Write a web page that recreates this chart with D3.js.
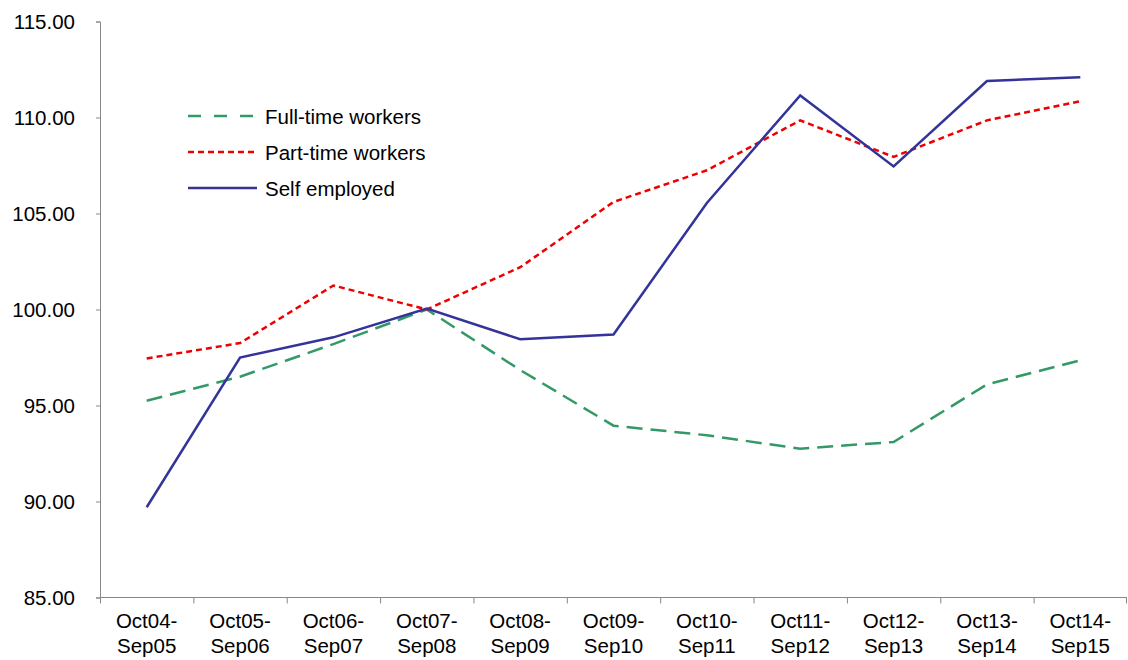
<!DOCTYPE html>
<html>
<head>
<meta charset="utf-8">
<script src="https://cdn.jsdelivr.net/npm/d3@7"></script>
<style>
  body { margin: 0; background: #fff; }
  svg text { font-family: "Liberation Sans", Arial, sans-serif; fill: #000; }
</style>
</head>
<body>
<svg id="drawing_region"></svg>
<script>
var periods = [
  ['Oct04-', 'Sep05'], ['Oct05-', 'Sep06'], ['Oct06-', 'Sep07'], ['Oct07-', 'Sep08'],
  ['Oct08-', 'Sep09'], ['Oct09-', 'Sep10'], ['Oct10-', 'Sep11'], ['Oct11-', 'Sep12'],
  ['Oct12-', 'Sep13'], ['Oct13-', 'Sep14'], ['Oct14-', 'Sep15']
];
var fullTime = [95.25, 96.5, 98.2, 100.0, 96.85, 93.95, 93.45, 92.75, 93.1, 96.1, 97.35];
var partTime = [97.45, 98.25, 101.25, 100.0, 102.2, 105.6, 107.25, 109.85, 107.95, 109.85, 110.85];
var selfEmployed = [89.7, 97.5, 98.55, 100.05, 98.45, 98.7, 105.55, 111.15, 107.45, 111.9, 112.1];
var yTicks = [85, 90, 95, 100, 105, 110, 115];

var series = [
  { name: 'Full-time workers', values: fullTime, color: '#339966', dash: '16,8' },
  { name: 'Part-time workers', values: partTime, color: '#ee0000', dash: '6,4' },
  { name: 'Self employed', values: selfEmployed, color: '#333399', dash: null }
];

var margin = { top: 21.5, right: 1, bottom: 62.5, left: 100 };
var width = 1128 - margin.left - margin.right;
var height = 660 - margin.top - margin.bottom;

var svg = d3.select('#drawing_region')
    .attr('width', width + margin.left + margin.right)
    .attr('height', height + margin.top + margin.bottom)
    .append('g')
    .attr('transform', 'translate(' + margin.left + ',' + margin.top + ')');

var xScale = d3.scaleBand()
    .domain(d3.range(periods.length))
    .range([0, width]);

var yScale = d3.scaleLinear()
    .domain([85, 115])
    .range([height, 0]);

// y axis
var yAxis = svg.append('g')
    .call(d3.axisLeft(yScale).tickValues(yTicks).tickSize(4).tickFormat(d3.format('.2f')));
yAxis.selectAll('text').style('font-size', '20.5px').attr('x', -25);
yAxis.selectAll('line, path').attr('stroke', '#888');

// x axis, ticks between the categories
var xAxis = svg.append('g')
    .attr('transform', 'translate(0,' + height + ')');
xAxis.append('line')
    .attr('x1', 0).attr('x2', width)
    .attr('stroke', '#888');
xAxis.selectAll('.tick')
    .data(d3.range(periods.length + 1))
    .enter()
    .append('line')
    .attr('x1', d => d === periods.length ? width - 0.5 : xScale(d) + 0.5)
    .attr('x2', d => d === periods.length ? width - 0.5 : xScale(d) + 0.5)
    .attr('y1', 0).attr('y2', 6)
    .attr('stroke', '#888');
var labels = xAxis.selectAll('.label')
    .data(periods)
    .enter()
    .append('text')
    .attr('text-anchor', 'middle')
    .style('font-size', '20.5px')
    .attr('transform', (d, i) => 'translate(' + (xScale(i) + xScale.bandwidth() / 2) + ',0)');
labels.append('tspan').attr('x', 0).attr('y', 30).text(d => d[0]);
labels.append('tspan').attr('x', 0).attr('y', 55).text(d => d[1]);

// lines
var line = d3.line()
    .x((d, i) => xScale(i) + xScale.bandwidth() / 2)
    .y(d => yScale(d));

series.forEach(function(s) {
    svg.append('path')
        .datum(s.values)
        .attr('fill', 'none')
        .attr('stroke', s.color)
        .attr('stroke-width', 2.5)
        .attr('stroke-dasharray', s.dash)
        .attr('d', line);
});

// legend
var legend = svg.append('g')
    .attr('transform', 'translate(88,94.5)');
series.forEach(function(s, i) {
    var g = legend.append('g').attr('transform', 'translate(0,' + (i * 36) + ')');
    g.append('line')
        .attr('x1', 0).attr('x2', 69)
        .attr('stroke', s.color)
        .attr('stroke-width', 2.5)
        .attr('stroke-dasharray', s.dash === '16,8' ? '13,13' : s.dash);
    g.append('text')
        .attr('x', 77)
        .attr('y', 7.5)
        .style('font-size', '20.5px')
        .text(s.name);
});
</script>
</body>
</html>
